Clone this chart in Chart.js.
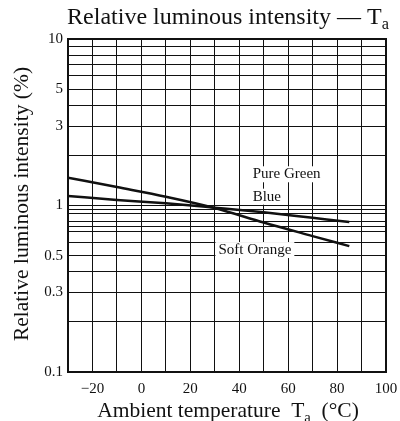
<!DOCTYPE html>
<html>
<head>
<meta charset="utf-8">
<script src="https://cdn.jsdelivr.net/npm/chart.js@4/dist/chart.umd.min.js"></script>
<style>
  html, body { margin: 0; padding: 0; background: #fff; }
  #wrap { width: 400px; height: 421px; }
</style>
</head>
<body>
<div id="wrap"><canvas id="chLum" width="400" height="421"></canvas></div>
<script>
var temps = [-30, -10, 10, 30, 50, 70, 85];
var softOrange = [1.47, 1.29, 1.13, 0.966, 0.79, 0.655, 0.57];
var pureGreenBlue = [1.14, 1.08, 1.03, 0.97, 0.91, 0.843, 0.796];

var yGrid = [0.1, 0.2, 0.3, 0.4, 0.5, 0.6, 0.7, 0.75, 0.8, 0.9, 0.95, 1, 2, 3, 4, 5, 6, 7, 8, 9, 10];
var yLabels = [0.1, 0.3, 0.5, 1, 3, 5, 10];

// text labels placed at (temp, value)
var curveLabels = [
  {text: 'Pure Green', x: 45.5, y: 1.54},
  {text: 'Blue', x: 45.5, y: 1.13},
  {text: 'Soft Orange', x: 31.5, y: 0.54}
];

var serif = '"Liberation Serif", "Times New Roman", serif';
var ink = '#111';

function pts(vals) {
  return temps.map(function(t, i){ return {x: t, y: vals[i]}; });
}

// draw text runs with subscripts, centered on cx
function drawRuns(ctx, runs, cx, cy, size) {
  var w = 0;
  runs.forEach(function(r){
    ctx.font = (r.sub ? size * 0.68 : size) + 'px ' + serif;
    r.w = ctx.measureText(r.t).width;
    w += r.w;
  });
  var x = cx - w / 2;
  runs.forEach(function(r){
    ctx.font = (r.sub ? size * 0.68 : size) + 'px ' + serif;
    ctx.fillText(r.t, x, r.sub ? cy + size * 0.22 : cy);
    x += r.w;
  });
}

var textPlugin = {
  id: 'textPlugin',
  afterDatasetsDraw: function(chart) {
    var ctx = chart.ctx, xs = chart.scales.x, ys = chart.scales.y, a = chart.chartArea;
    ctx.save();
    // frame
    ctx.strokeStyle = ink;
    ctx.lineWidth = 2;
    ctx.strokeRect(a.left, a.top, a.right - a.left, a.bottom - a.top);

    ctx.fillStyle = ink;
    ctx.textBaseline = 'middle';
    ctx.textAlign = 'left';
    ctx.font = '15px ' + serif;
    curveLabels.forEach(function(l){
      var px = xs.getPixelForValue(l.x), py = ys.getPixelForValue(l.y);
      var w = ctx.measureText(l.text).width;
      ctx.fillStyle = '#fff';
      ctx.fillRect(px - 3, py - 8, w + 6, 16);
      ctx.fillStyle = ink;
      ctx.fillText(l.text, px, py);
    });

    ctx.textBaseline = 'alphabetic';
    drawRuns(ctx, [{t: 'Relative luminous intensity \u2014 T'}, {t: 'a', sub: true}], 228, 24, 24);
    drawRuns(ctx, [{t: 'Ambient temperature  T'}, {t: 'a', sub: true}, {t: '  (\u00b0C)'}], 228, 417, 21.5);

    ctx.translate(22, 204);
    ctx.rotate(-Math.PI / 2);
    ctx.textBaseline = 'middle';
    drawRuns(ctx, [{t: 'Relative luminous intensity (%)'}], 0, 0, 21.5);
    ctx.restore();
  }
};

var lineStyle = {borderColor: ink, borderWidth: 2.5, pointRadius: 0, fill: false, cubicInterpolationMode: 'monotone'};

new Chart(document.getElementById('chLum'), {
  type: 'line',
  data: {
    datasets: [
      Object.assign({label: 'Soft Orange', data: pts(softOrange)}, lineStyle),
      Object.assign({label: 'Pure Green / Blue', data: pts(pureGreenBlue)}, lineStyle)
    ]
  },
  options: {
    responsive: false,
    animation: false,
    layout: {padding: {top: 39, right: 14, bottom: 0, left: 0}},
    plugins: {legend: {display: false}, tooltip: {enabled: false}},
    scales: {
      x: {
        type: 'linear', min: -30, max: 100,
        afterFit: function(s){ s.height = 49; s.paddingLeft = 0; s.paddingRight = 0; },
        grid: {color: ink, lineWidth: 1, drawTicks: false},
        border: {color: ink, width: 2},
        ticks: {
          stepSize: 10, padding: 8, color: ink, font: {family: serif, size: 15},
          autoSkip: false, maxRotation: 0,
          callback: function(v){ return v % 20 === 0 ? (v < 0 ? '\u2212' + (-v) : '' + v) : ''; }
        }
      },
      y: {
        type: 'logarithmic', min: 0.1, max: 10,
        afterFit: function(s){ s.width = 68; s.paddingTop = 0; s.paddingBottom = 0; },
        afterBuildTicks: function(s){ s.ticks = yGrid.map(function(v){ return {value: v}; }); },
        grid: {color: ink, lineWidth: 1, drawTicks: false},
        border: {color: ink, width: 2},
        ticks: {
          padding: 5, color: ink, font: {family: serif, size: 15}, autoSkip: false,
          callback: function(v){ return yLabels.indexOf(v) >= 0 ? '' + v : ''; }
        }
      }
    }
  },
  plugins: [textPlugin]
});
</script>
</body>
</html>
